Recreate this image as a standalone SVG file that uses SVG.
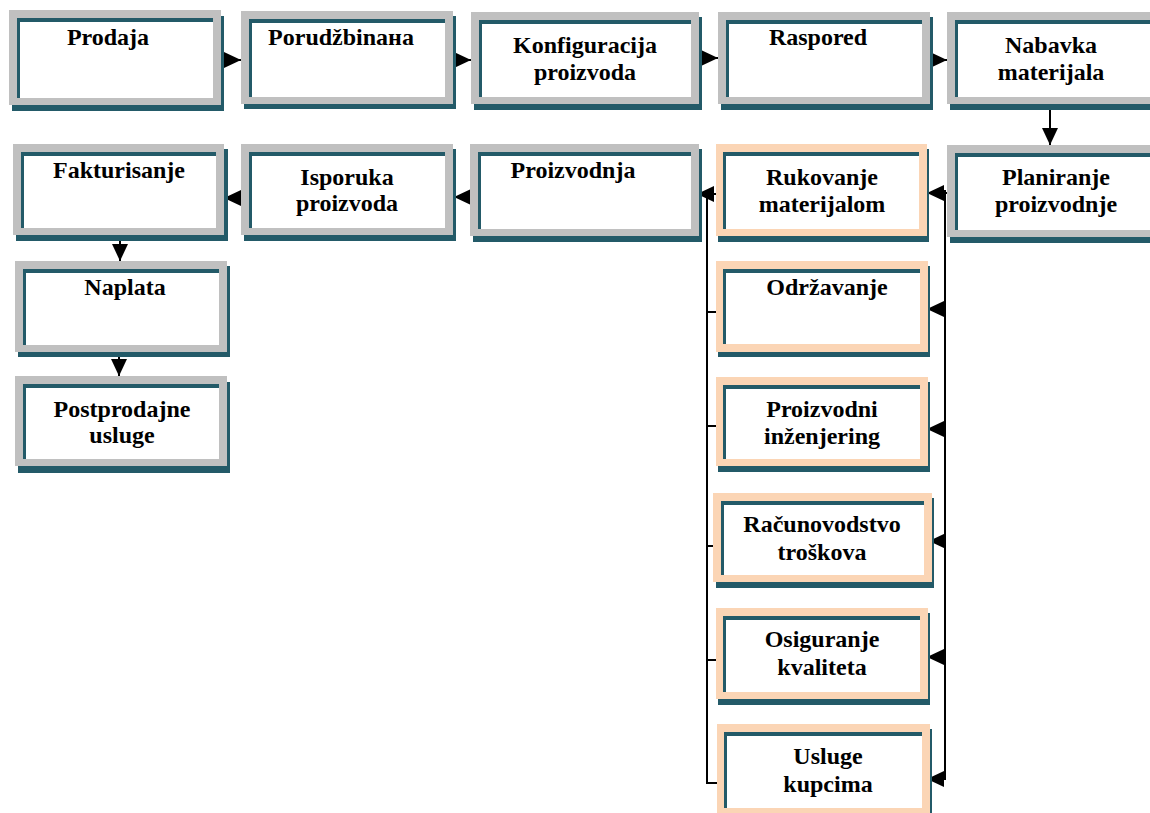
<svg xmlns="http://www.w3.org/2000/svg" width="1150" height="813" viewBox="0 0 1150 813">
  <defs>
    <style>
      .sh { fill: #235a68; }
      .gray { fill: #c0c0c0; }
      .peach { fill: #fbd5b5; }
      .band { fill: #235a68; }
      .inner { fill: #ffffff; }
      .lbl { font-family: "Liberation Serif", "Times New Roman", serif; font-weight: bold; font-size: 24px; fill: #000; text-anchor: middle; }
      .conn { stroke: #000; stroke-width: 2; fill: none; }
      .arr { marker-end: url(#head); }
    </style>
    <marker id="head" markerUnits="userSpaceOnUse" markerWidth="17" markerHeight="16" refX="17" refY="8" orient="auto">
      <path d="M0,0 L17,8 L0,16 z" fill="#000"/>
    </marker>
  </defs>
  <rect width="1150" height="813" fill="#ffffff"/>

  <!-- connectors -->
  <g id="connectors">
    <!-- top row, left to right -->
    <line class="conn arr" x1="221" y1="60" x2="241" y2="60"/>
    <line class="conn arr" x1="453" y1="60" x2="471" y2="60"/>
    <line class="conn arr" x1="699" y1="58" x2="718" y2="58"/>
    <line class="conn arr" x1="930" y1="60" x2="947" y2="60"/>
    <!-- down to production planning -->
    <line class="conn arr" x1="1050" y1="110" x2="1050" y2="145"/>
    <!-- right bus feeding the support functions -->
    <line class="conn" x1="945" y1="190" x2="945" y2="780"/>
    <line class="conn arr" x1="947" y1="193" x2="927" y2="193"/>
    <line class="conn arr" x1="945" y1="309" x2="927" y2="309"/>
    <line class="conn arr" x1="945" y1="429" x2="927" y2="429"/>
    <line class="conn arr" x1="945" y1="541" x2="929" y2="541"/>
    <line class="conn arr" x1="945" y1="657" x2="927" y2="657"/>
    <line class="conn arr" x1="946" y1="779" x2="927" y2="779"/>
    <!-- left bus collecting into production -->
    <line class="conn" x1="707" y1="194" x2="707" y2="784"/>
    <line class="conn arr" x1="716" y1="194" x2="697" y2="194"/>
    <line class="conn" x1="706" y1="312" x2="719" y2="312"/>
    <line class="conn" x1="706" y1="426" x2="719" y2="426"/>
    <line class="conn" x1="706" y1="546" x2="716" y2="546"/>
    <line class="conn" x1="706" y1="660" x2="719" y2="660"/>
    <line class="conn" x1="706" y1="783" x2="718" y2="783"/>
    <!-- second row, right to left -->
    <line class="conn arr" x1="472" y1="197" x2="454" y2="197"/>
    <line class="conn arr" x1="241" y1="198" x2="224" y2="198"/>
    <!-- left column, downward -->
    <line class="conn arr" x1="120" y1="238" x2="120" y2="261"/>
    <line class="conn arr" x1="119" y1="356" x2="119" y2="376"/>
  </g>

  <!-- top row -->
  <g id="prodaja">
    <rect class="sh" x="12" y="16" width="212" height="95"/>
    <rect class="gray" x="9" y="10" width="212" height="95"/>
    <rect class="band" x="17" y="18" width="196" height="80"/>
    <rect class="inner" x="20" y="22" width="193" height="76"/>
    <text class="lbl" x="108" y="45">Prodaja</text>
  </g>
  <g id="porudzbina">
    <rect class="sh" x="244" y="16" width="212" height="93"/>
    <rect class="gray" x="241" y="11" width="212" height="93"/>
    <rect class="band" x="249" y="19" width="196" height="78"/>
    <rect class="inner" x="252" y="23" width="193" height="74"/>
    <text class="lbl" x="341" y="45">Porudžbinaна</text>
  </g>
  <g id="konfiguracija">
    <rect class="sh" x="474" y="17" width="228" height="93"/>
    <rect class="gray" x="471" y="12" width="228" height="92"/>
    <rect class="band" x="479" y="20" width="212" height="77"/>
    <rect class="inner" x="482" y="24" width="209" height="73"/>
    <text class="lbl" x="585" y="53">Konfiguracija</text>
    <text class="lbl" x="585" y="80">proizvoda</text>
  </g>
  <g id="raspored">
    <rect class="sh" x="721" y="17" width="212" height="93"/>
    <rect class="gray" x="718" y="12" width="212" height="92"/>
    <rect class="band" x="726" y="20" width="196" height="77"/>
    <rect class="inner" x="729" y="24" width="193" height="73"/>
    <text class="lbl" x="818" y="45">Raspored</text>
  </g>
  <g id="nabavka">
    <rect class="sh" x="950" y="17" width="212" height="93"/>
    <rect class="gray" x="947" y="12" width="212" height="92"/>
    <rect class="band" x="955" y="20" width="196" height="77"/>
    <rect class="inner" x="958" y="24" width="193" height="73"/>
    <text class="lbl" x="1051" y="53">Nabavka</text>
    <text class="lbl" x="1051" y="80">materijala</text>
  </g>

  <!-- second row -->
  <g id="fakturisanje">
    <rect class="sh" x="16" y="149" width="212" height="92"/>
    <rect class="gray" x="13" y="144" width="211" height="91"/>
    <rect class="band" x="21" y="152" width="195" height="76"/>
    <rect class="inner" x="24" y="156" width="192" height="72"/>
    <text class="lbl" x="119" y="178">Fakturisanje</text>
  </g>
  <g id="isporuka">
    <rect class="sh" x="244" y="149" width="212" height="92"/>
    <rect class="gray" x="241" y="144" width="212" height="91"/>
    <rect class="band" x="249" y="152" width="196" height="76"/>
    <rect class="inner" x="252" y="156" width="193" height="72"/>
    <text class="lbl" x="347" y="185">Isporuka</text>
    <text class="lbl" x="347" y="211">proizvoda</text>
  </g>
  <g id="proizvodnja">
    <rect class="sh" x="473" y="149" width="229" height="93"/>
    <rect class="gray" x="470" y="144" width="229" height="92"/>
    <rect class="band" x="478" y="152" width="213" height="77"/>
    <rect class="inner" x="481" y="156" width="210" height="73"/>
    <text class="lbl" x="573" y="178">Proizvodnja</text>
  </g>
  <g id="rukovanje">
    <rect class="sh" x="718" y="149" width="211" height="93"/>
    <rect class="peach" x="716" y="144" width="211" height="92"/>
    <rect class="band" x="723" y="152" width="196" height="77"/>
    <rect class="inner" x="726" y="156" width="193" height="73"/>
    <text class="lbl" x="822" y="185">Rukovanje</text>
    <text class="lbl" x="822" y="212">materijalom</text>
  </g>
  <g id="planiranje">
    <rect class="sh" x="950" y="150" width="212" height="93"/>
    <rect class="gray" x="947" y="145" width="212" height="92"/>
    <rect class="band" x="955" y="153" width="196" height="77"/>
    <rect class="inner" x="958" y="157" width="193" height="73"/>
    <text class="lbl" x="1056" y="185">Planiranje</text>
    <text class="lbl" x="1056" y="212">proizvodnje</text>
  </g>

  <!-- left column -->
  <g id="naplata">
    <rect class="sh" x="18" y="266" width="212" height="91"/>
    <rect class="gray" x="15" y="261" width="212" height="91"/>
    <rect class="band" x="23" y="269" width="196" height="76"/>
    <rect class="inner" x="26" y="273" width="193" height="72"/>
    <text class="lbl" x="125" y="295">Naplata</text>
  </g>
  <g id="postprodajne">
    <rect class="sh" x="18" y="382" width="212" height="91"/>
    <rect class="gray" x="15" y="376" width="212" height="90"/>
    <rect class="band" x="23" y="384" width="196" height="75"/>
    <rect class="inner" x="26" y="388" width="193" height="71"/>
    <text class="lbl" x="122" y="417">Postprodajne</text>
    <text class="lbl" x="122" y="443">usluge</text>
  </g>

  <!-- right column, support functions -->
  <g id="odrzavanje">
    <rect class="sh" x="718" y="266" width="212" height="91"/>
    <rect class="peach" x="716" y="261" width="212" height="91"/>
    <rect class="band" x="723" y="269" width="197" height="75"/>
    <rect class="inner" x="726" y="273" width="194" height="71"/>
    <text class="lbl" x="827" y="295">Održavanje</text>
  </g>
  <g id="proizvodni-inzenjering">
    <rect class="sh" x="718" y="382" width="212" height="90"/>
    <rect class="peach" x="716" y="377" width="212" height="89"/>
    <rect class="band" x="723" y="385" width="197" height="74"/>
    <rect class="inner" x="726" y="389" width="194" height="70"/>
    <text class="lbl" x="822" y="417">Proizvodni</text>
    <text class="lbl" x="822" y="444">inženjering</text>
  </g>
  <g id="racunovodstvo">
    <rect class="sh" x="716" y="498" width="218" height="90"/>
    <rect class="peach" x="713" y="493" width="219" height="89"/>
    <rect class="band" x="721" y="501" width="203" height="74"/>
    <rect class="inner" x="724" y="505" width="200" height="70"/>
    <text class="lbl" x="822" y="532">Računovodstvo</text>
    <text class="lbl" x="822" y="560">troškova</text>
  </g>
  <g id="osiguranje">
    <rect class="sh" x="718" y="613" width="212" height="92"/>
    <rect class="peach" x="716" y="608" width="212" height="91"/>
    <rect class="band" x="723" y="616" width="197" height="76"/>
    <rect class="inner" x="726" y="620" width="194" height="72"/>
    <text class="lbl" x="822" y="647">Osiguranje</text>
    <text class="lbl" x="822" y="675">kvaliteta</text>
  </g>
  <g id="usluge-kupcima">
    <rect class="sh" x="719" y="729" width="213" height="91"/>
    <rect class="peach" x="717" y="724" width="213" height="89"/>
    <rect class="band" x="724" y="732" width="198" height="76"/>
    <rect class="inner" x="727" y="736" width="195" height="72"/>
    <text class="lbl" x="828" y="764">Usluge</text>
    <text class="lbl" x="828" y="792">kupcima</text>
  </g>
</svg>
